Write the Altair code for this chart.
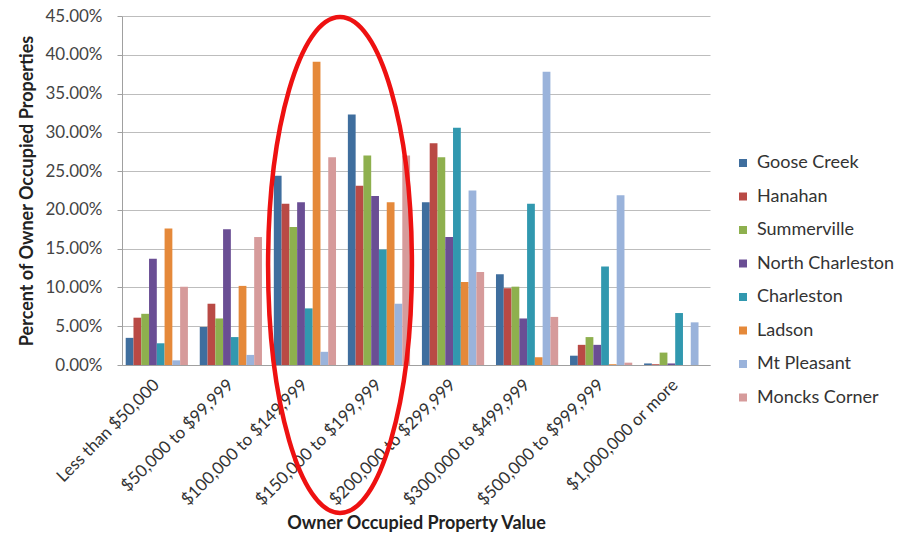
import altair as alt
import pandas as pd

categories = [
    "Less than $50,000",
    "$50,000 to $99,999",
    "$100,000 to $149,999",
    "$150,000 to $199,999",
    "$200,000 to $299,999",
    "$300,000 to $499,999",
    "$500,000 to $999,999",
    "$1,000,000 or more",
]
places = ["Goose Creek", "Hanahan", "Summerville", "North Charleston",
          "Charleston", "Ladson", "Mt Pleasant", "Moncks Corner"]
colors = ["#3F6E9E", "#B94A45", "#8EB04E", "#6A4E94",
          "#3198AF", "#E5893A", "#9AB3DB", "#D69B9B"]

goose_creek = [3.5, 4.9, 24.4, 32.3, 21.0, 11.7, 1.2, 0.2]
hanahan = [6.1, 7.9, 20.8, 23.1, 28.6, 9.9, 2.6, 0.1]
summerville = [6.6, 6.0, 17.8, 27.0, 26.8, 10.1, 3.6, 1.6]
north_charleston = [13.7, 17.5, 21.0, 21.8, 16.5, 6.0, 2.6, 0.2]
charleston = [2.8, 3.6, 7.3, 14.9, 30.6, 20.8, 12.7, 6.7]
ladson = [17.6, 10.2, 39.1, 21.0, 10.7, 1.0, 0.1, 0.0]
mt_pleasant = [0.6, 1.3, 1.7, 7.9, 22.5, 37.8, 21.9, 5.5]
moncks_corner = [10.1, 16.5, 26.8, 27.0, 12.0, 6.2, 0.3, 0.0]

series = [goose_creek, hanahan, summerville, north_charleston,
          charleston, ladson, mt_pleasant, moncks_corner]

rows = []
for p, vals in zip(places, series):
    for c, v in zip(categories, vals):
        rows.append({"category": c, "place": p, "value": v})
df = pd.DataFrame(rows)

FONT = "Lato"

bars = alt.Chart(df).mark_bar(stroke=None).encode(
    x=alt.X("category:N", sort=categories,
            scale=alt.Scale(paddingInner=0.16, paddingOuter=0.05),
            axis=alt.Axis(title="Owner Occupied Property Value",
                          labelAngle=-45, labelAlign="right", labelBaseline="middle",
                          labelFont=FONT, labelFontSize=17, labelColor="#333333",
                          labelPadding=17, ticks=False, domainColor="#a0a0a0",
                          titleFont=FONT, titleFontSize=18, titleFontWeight="bold",
                          titleColor="#222222", titlePadding=7, labelLimit=300)),
    xOffset=alt.XOffset("place:N", sort=places, scale=alt.Scale(paddingInner=0, paddingOuter=0)),
    y=alt.Y("value:Q", scale=alt.Scale(domain=[0, 45], nice=False),
            axis=alt.Axis(title="Percent of Owner Occupied Properties",
                          values=[0, 5, 10, 15, 20, 25, 30, 35, 40, 45],
                          labelExpr="format(datum.value / 100, '.2%')",
                          labelFont=FONT, labelFontSize=17, labelColor="#444444",
                          labelPadding=15, tickSize=5, tickColor="#a0a0a0",
                          domainColor="#a0a0a0", gridColor="#bdbdbd",
                          titleFont=FONT, titleFontSize=18, titleFontWeight="bold",
                          titleColor="#222222", titlePadding=8)),
    color=alt.Color("place:N", sort=places,
                    scale=alt.Scale(domain=places, range=colors),
                    legend=alt.Legend(title=None, orient="none", legendX=612, legendY=138,
                                      symbolType="square", symbolSize=64,
                                      symbolStrokeWidth=0,
                                      labelFont=FONT, labelFontSize=18,
                                      labelColor="#333333", rowPadding=15.5,
                                      labelOffset=5, padding=0)),
)

ellipse_shape = "M 0 -1 A 0.29 1 0 1 1 0 1 A 0.29 1 0 1 1 0 -1 Z"
ellipse = alt.Chart(pd.DataFrame({"note": ["highlight"]})).mark_point(
    shape=ellipse_shape, filled=False, stroke="#ee1111", strokeWidth=4.5,
    size=496 * 496, opacity=1, clip=False,
).encode(x=alt.value(218), y=alt.value(249))

chart = alt.layer(bars, ellipse).properties(
    width=588, height=349,
    autosize=alt.AutoSizeParams(type="none"),
    padding={"left": 122, "top": 16, "right": 190, "bottom": 171},
    background="white",
).configure_view(stroke=None)

chart.save("out.html", embed_options={"renderer": "svg", "actions": False})
